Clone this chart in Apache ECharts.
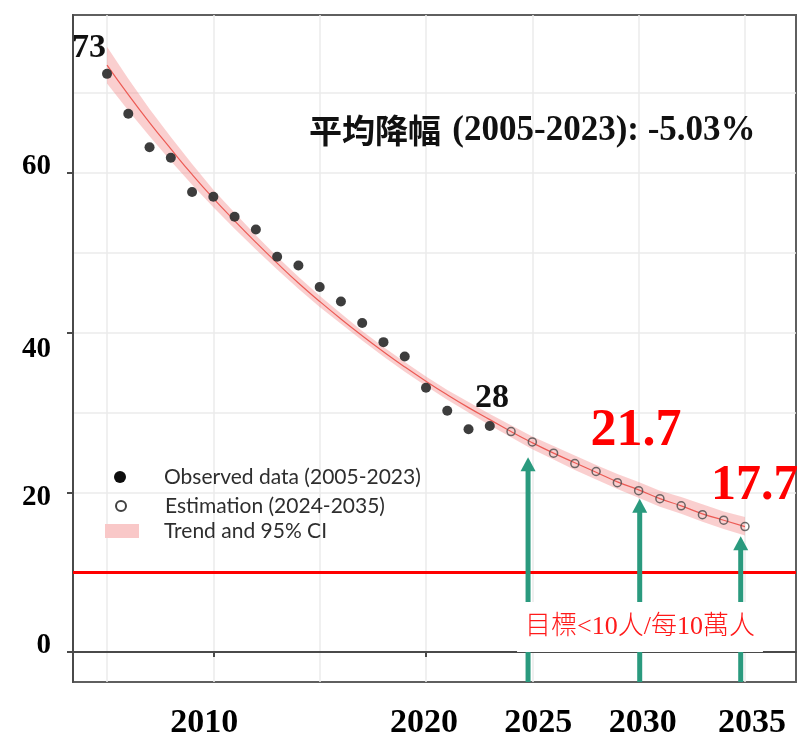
<!DOCTYPE html>
<html>
<head>
<meta charset="utf-8">
<script src="https://cdn.jsdelivr.net/npm/echarts@6/dist/echarts.min.js"></script>
<style>
html,body{margin:0;padding:0;background:#fff;}
#main{width:797px;height:736px;}
</style>
</head>
<body>
<div id="main"></div>
<script>
// ---- data ----
const observedYears = [2005,2006,2007,2008,2009,2010,2011,2012,2013,2014,2015,2016,2017,2018,2019,2020,2021,2022,2023];
const observedValues = [72.4,67.4,63.2,61.9,57.6,57.0,54.5,52.9,49.5,48.4,45.7,43.9,41.2,38.8,37.0,33.1,30.2,27.9,28.3];

const estimationYears = [2024,2025,2026,2027,2028,2029,2030,2031,2032,2033,2034,2035];
const estimationValues = [27.6,26.3,24.9,23.6,22.6,21.2,20.2,19.2,18.3,17.2,16.5,15.7];

const trendYears = [2005,2006,2007,2008,2009,2010,2011,2012,2013,2014,2015,2016,2017,2018,2019,2020,2021,2022,2023,2024,2025,2026,2027,2028,2029,2030,2031,2032,2033,2034,2035];
const trendValues = [73.5,69.8,66.3,63.0,59.8,56.8,54.0,51.3,48.7,46.2,43.9,41.7,39.6,37.6,35.7,33.9,32.2,30.6,29.1,27.6,26.2,24.9,23.7,22.5,21.3,20.3,19.2,18.3,17.3,16.5,15.7];
const ciLower = [71.2,67.8,64.6,61.5,58.5,55.7,53.0,50.4,47.9,45.5,43.2,41.1,39.0,37.0,35.1,33.3,31.6,30.0,28.4,26.9,25.4,24.1,22.8,21.6,20.4,19.3,18.2,17.3,16.3,15.4,14.6];
const ciUpper = [75.8,71.8,68.0,64.5,61.1,57.9,55.0,52.2,49.5,47.0,44.6,42.4,40.2,38.2,36.3,34.5,32.8,31.3,29.8,28.4,27.0,25.8,24.6,23.4,22.3,21.3,20.2,19.4,18.5,17.6,16.9];

const targetLevel = 10;
const arrowYears = [2024.8, 2030.05, 2034.8];
const arrowTips = [24.4, 19.2, 14.5];

const xMajorTicks = [2010, 2020, 2030];
const xTickLabels = [2010, 2020, 2025, 2030, 2035];
const xGrid = [2005, 2010, 2015, 2020, 2025, 2030, 2035];
const yTickLabels = [0, 20, 40, 60];
const yGrid = [0, 10, 20, 30, 40, 50, 60, 70];

const xMin = 2003.4, xMax = 2037.4;
const yMin = -3.76, yMax = 79.77;

// ---- chart ----
const SERIF = '"Liberation Serif","DejaVu Serif",serif';
const chart = echarts.init(document.getElementById('main'));

const zip = (a, b) => a.map((v, i) => [v, b[i]]);

const xLabelRich = {
  x2010: {padding: [0, 18, 0, 0]},
  x2020: {padding: [0, 4, 0, 0]},
  x2025: {padding: [0, 0, 0, 12]},
  x2030: {padding: [0, 0, 0, 8]},
  x2035: {padding: [0, 0, 0, 14]}
};
Object.values(xLabelRich).forEach(r => { r.fontFamily = SERIF; r.fontWeight = 'bold'; r.fontSize = 34; r.color = '#000'; });
const yLabelRich = {
  y0: {padding: [0, 0, 12, 0]},
  y20: {padding: [10, 0, 0, 0]},
  y40: {padding: [34, 0, 0, 0]},
  y60: {padding: [0, 0, 12, 0]}
};
Object.values(yLabelRich).forEach(r => { r.fontFamily = SERIF; r.fontWeight = 'bold'; r.fontSize = 29; r.color = '#000'; });

const option = {
  backgroundColor: '#fff',
  animation: false,
  grid: {left: 73, right: 1, top: 15, bottom: 54, outerBoundsMode: 'none', containLabel: false,
         show: true, borderColor: '#5f5f5f', borderWidth: 2, backgroundColor: 'transparent'},
  xAxis: [
    {
      type: 'value', min: xMin, max: xMax,
      axisLine: {show: true, lineStyle: {color: '#4a4a4a', width: 2}},
      axisTick: {show: true, customValues: xMajorTicks, length: 5, lineStyle: {color: '#4a4a4a', width: 2}},
      axisLabel: {
        customValues: xTickLabels, margin: 24,
        formatter: v => '{x' + v + '|' + v + '}',
        rich: xLabelRich
      },
      splitLine: {show: false}
    },
    {
      type: 'value', min: xMin, max: xMax, position: 'bottom',
      axisLine: {show: false}, axisLabel: {show: false},
      axisTick: {show: false, customValues: xGrid},
      splitLine: {show: true, lineStyle: {color: '#ebebeb', width: 1.5}}
    }
  ],
  yAxis: [
    {
      type: 'value', min: yMin, max: yMax,
      axisLine: {show: true, lineStyle: {color: '#4a4a4a', width: 2}},
      axisTick: {show: true, customValues: yTickLabels, length: 6, lineStyle: {color: '#4a4a4a', width: 2}},
      axisLabel: {
        customValues: yTickLabels, margin: 22,
        formatter: v => '{y' + v + '|' + v + '}',
        rich: yLabelRich
      },
      splitLine: {show: false}
    },
    {
      type: 'value', min: yMin, max: yMax, position: 'left',
      axisLine: {show: false}, axisLabel: {show: false},
      axisTick: {show: false, customValues: yGrid},
      splitLine: {show: true, lineStyle: {color: '#ebebeb', width: 1.5}}
    }
  ],
  legend: [
    {
      data: ['Observed data (2005-2023)'], orient: 'vertical', left: 114, top: 466, padding: 0,
      itemWidth: 12, itemHeight: 12, icon: 'circle',
      itemStyle: {color: '#000', borderWidth: 0},
      textStyle: {fontFamily: 'Lato', fontSize: 21, lineHeight: 22, color: '#2e2e2e', padding: [0, 0, 0, 33]}
    },
    {
      data: ['Estimation (2024-2035)'], orient: 'vertical', left: 115, top: 495, padding: 0,
      itemWidth: 10, itemHeight: 10, icon: 'circle',
      itemStyle: {color: '#fff', borderColor: '#111', borderWidth: 2},
      textStyle: {fontFamily: 'Lato', fontSize: 21, lineHeight: 22, color: '#2e2e2e', padding: [0, 0, 0, 34]}
    },
    {
      data: ['Trend and 95% CI'], orient: 'vertical', left: 105, top: 520, padding: 0,
      itemWidth: 34, itemHeight: 14, icon: 'rect',
      itemStyle: {color: '#f9c8c8', borderWidth: 0},
      textStyle: {fontFamily: 'Lato', fontSize: 21, lineHeight: 22, color: '#2e2e2e', padding: [0, 0, 0, 20]}
    }
  ],
  series: [
    {
      name: 'Trend and 95% CI', type: 'custom', z: 2,
      itemStyle: {color: '#f9c8c8'},
      data: [[trendYears[0], trendValues[0]]],
      renderItem: (params, api) => {
        if (params.dataIndex !== 0) return null;
        const pts = [];
        for (let i = 0; i < trendYears.length; i++) pts.push(api.coord([trendYears[i], ciUpper[i]]));
        for (let i = trendYears.length - 1; i >= 0; i--) pts.push(api.coord([trendYears[i], ciLower[i]]));
        return {type: 'polygon', shape: {points: pts}, style: {fill: 'rgba(244,140,140,0.42)'}};
      },
      markLine: {
        silent: true, symbol: 'none', label: {show: false},
        lineStyle: {color: '#ff0000', width: 3, type: 'solid'},
        data: [{yAxis: targetLevel}]
      }
    },
    {
      name: 'trend', type: 'line', z: 3, showSymbol: false, smooth: true,
      lineStyle: {color: '#ec5b55', width: 1.2},
      data: zip(trendYears, trendValues)
    },
    {
      name: 'Observed data (2005-2023)', type: 'scatter', z: 4, symbolSize: 10,
      itemStyle: {color: '#333333', opacity: 0.95},
      data: zip(observedYears, observedValues)
    },
    {
      name: 'Estimation (2024-2035)', type: 'scatter', z: 4, symbolSize: 8,
      itemStyle: {color: 'rgba(0,0,0,0)', borderColor: '#4a4a4a', borderWidth: 1.5},
      data: zip(estimationYears, estimationValues)
    },
    {
      name: 'arrows', type: 'custom', z: 5,
      data: zip(arrowYears, arrowTips),
      renderItem: (params, api) => {
        const tip = api.coord([api.value(0), api.value(1)]);
        const base = api.coord([api.value(0), yMin]);
        const headH = 14, headW = 15, shaftW = 5;
        const color = '#2a9a7e';
        return {
          type: 'group',
          children: [
            {type: 'rect', shape: {x: tip[0] - shaftW / 2, y: tip[1] + headH - 1, width: shaftW, height: base[1] - tip[1] - headH + 1}, style: {fill: color}},
            {type: 'polygon', shape: {points: [[tip[0], tip[1]], [tip[0] - headW / 2, tip[1] + headH], [tip[0] + headW / 2, tip[1] + headH]]}, style: {fill: color}}
          ]
        };
      }
    }
  ],
  graphic: [
    {
      type: 'text', z: 100, left: 309, top: 113,
      style: {
        text: '{c|平均降幅} {n|(2005-2023): -5.03%}',
        rich: {
          c: {fontFamily: '"Noto Sans CJK TC"', fontWeight: 'bold', fontSize: 33, fill: '#111', padding: [0, 8, 0, 0]},
          n: {fontFamily: SERIF, fontWeight: 'bold', fontSize: 35, fill: '#111'}
        }
      }
    },
    {type: 'text', z: 100, x: 89, y: 48, style: {text: '73', font: 'bold 34px ' + SERIF, fill: '#111', align: 'center', verticalAlign: 'middle'}},
    {type: 'text', z: 100, x: 492, y: 398, style: {text: '28', font: 'bold 34px ' + SERIF, fill: '#111', align: 'center', verticalAlign: 'middle'}},
    {type: 'text', z: 100, x: 636, y: 432, style: {text: '21.7', font: 'bold 52px ' + SERIF, fill: '#ff0000', align: 'center', verticalAlign: 'middle'}},
    {type: 'text', z: 100, x: 711, y: 486, style: {text: '17.7', font: 'bold 50px ' + SERIF, fill: '#ff0000', align: 'left', verticalAlign: 'middle'}},
    {
      type: 'text', z: 100, x: 640, y: 627,
      style: {
        text: '目標<10人/每10萬人',
        font: '300 26px "Liberation Serif","Noto Sans CJK TC"',
        fill: '#ff1a1a', align: 'center', verticalAlign: 'middle',
        backgroundColor: '#fff', padding: [12, 8, 12, 8]
      }
    }
  ]
};
chart.setOption(option);
</script>
</body>
</html>
